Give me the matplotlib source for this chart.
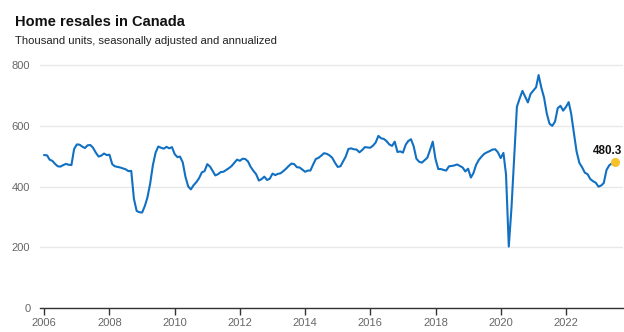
import matplotlib
matplotlib.use("Agg")
import matplotlib.pyplot as plt
import matplotlib.dates as mdates
import pandas as pd
import datetime as dt

# Monthly home resales, thousand units (SAAR), Jan 2006 onward
sales_2006 = [504, 503, 489, 485, 475, 467, 466, 471, 475, 472, 471, 524]
sales_2007 = [539, 538, 532, 527, 536, 537, 528, 512, 499, 502, 509, 504]
sales_2008 = [505, 474, 467, 465, 463, 460, 457, 451, 452, 360, 320, 316]
sales_2009 = [315, 337, 364, 410, 470, 512, 532, 528, 525, 531, 526, 530]
sales_2010 = [507, 497, 499, 480, 433, 401, 391, 405, 415, 428, 447, 451]
sales_2011 = [474, 466, 452, 437, 441, 448, 449, 455, 461, 468, 479, 489]
sales_2012 = [485, 492, 491, 483, 465, 452, 441, 420, 425, 433, 422, 426]
sales_2013 = [443, 438, 442, 444, 451, 459, 468, 476, 474, 464, 463, 456]
sales_2014 = [449, 453, 453, 473, 491, 495, 502, 510, 508, 503, 495, 479]
sales_2015 = [465, 467, 482, 499, 524, 526, 523, 522, 513, 520, 530, 529]
sales_2016 = [528, 535, 545, 567, 559, 557, 550, 539, 534, 548, 514, 516]
sales_2017 = [512, 538, 550, 556, 533, 492, 482, 479, 487, 495, 521, 548]
sales_2018 = [491, 458, 458, 455, 453, 467, 468, 470, 473, 468, 463, 450]
sales_2019 = [459, 430, 444, 472, 488, 499, 508, 513, 517, 522, 523, 513]
sales_2020 = [494, 511, 440, 203, 330, 500, 663, 690, 715, 696, 677, 705]
sales_2021 = [716, 727, 767, 725, 693, 640, 607, 600, 614, 658, 666, 650]
sales_2022 = [662, 678, 640, 575, 515, 478, 464, 446, 441, 425, 418, 413]
sales_2023 = [400, 404, 412, 455, 470, 477, 480.3]

values = (sales_2006 + sales_2007 + sales_2008 + sales_2009 + sales_2010 +
          sales_2011 + sales_2012 + sales_2013 + sales_2014 + sales_2015 +
          sales_2016 + sales_2017 + sales_2018 + sales_2019 + sales_2020 +
          sales_2021 + sales_2022 + sales_2023)
dates = pd.date_range("2006-01-01", periods=len(values), freq="MS")

y_ticks = [0, 200, 400, 600, 800]
title = "Home resales in Canada"
subtitle = "Thousand units, seasonally adjusted and annualized"

W, H = 624, 332
fig = plt.figure(figsize=(W / 100, H / 100), dpi=100)
plt.rcParams["font.family"] = ["Liberation Sans", "DejaVu Sans"]

ax = fig.add_axes([40 / W, 1 - 308.3 / H, 583 / W, (308.3 - 62) / H])

line_color = "#1170c2"
ax.plot(dates, values, color=line_color, lw=1.5, solid_joinstyle="round", zorder=3)

# highlight latest reading
last_date, last_val = dates[-1], values[-1]
ax.plot([last_date], [last_val], "o", ms=6.5, color="#f5c22b", mec="none", zorder=4)
ax.annotate(f"{last_val:.1f}", xy=(last_date, last_val), xytext=(7, 5),
            textcoords="offset pixels", ha="right", va="bottom",
            fontsize=8.4, fontweight="bold", color="#111111", zorder=5)

ax.set_ylim(0, 810)
x0 = mdates.date2num(dt.datetime(2006, 1, 1))
ax.set_xlim(x0 - 0.132 * 365.25, x0 + 17.751 * 365.25)

ax.set_yticks(y_ticks)
ax.set_yticklabels([str(v) for v in y_ticks])
ax.grid(axis="y", color="#e8e8e8", lw=1)
ax.set_axisbelow(True)

ax.xaxis.set_major_locator(mdates.YearLocator(2))
ax.xaxis.set_major_formatter(mdates.DateFormatter("%Y"))

for side in ("top", "right", "left"):
    ax.spines[side].set_visible(False)
ax.spines["bottom"].set_color("#333333")
ax.spines["bottom"].set_linewidth(1)
ax.spines["bottom"].set_zorder(6)

ax.tick_params(axis="y", length=0, pad=7, labelsize=8, labelcolor="#666666")
ax.tick_params(axis="x", length=5, width=1, color="#333333", pad=2,
               labelsize=8, labelcolor="#666666")

fig.text(15 / W, 1 - 26 / H, title, fontsize=10.5, fontweight="bold",
         color="#111111", ha="left", va="baseline")
fig.text(15 / W, 1 - 43.5 / H, subtitle, fontsize=8.1,
         color="#222222", ha="left", va="baseline")

fig.savefig("out.png", dpi=100)
